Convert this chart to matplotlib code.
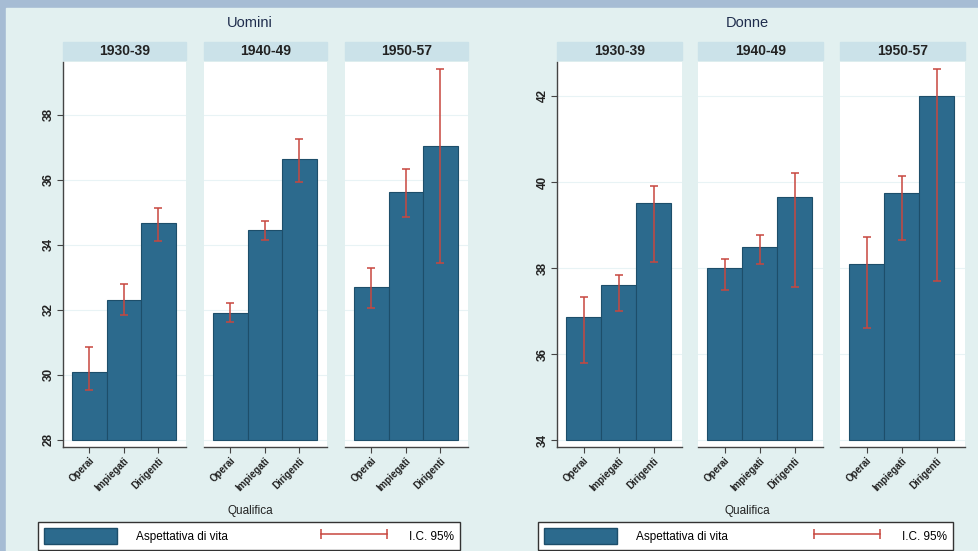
import matplotlib.pyplot as plt
from matplotlib.patches import Rectangle, Patch
from matplotlib.lines import Line2D

plt.rcParams['font.family'] = ['Liberation Sans', 'DejaVu Sans']

W, H = 979, 551

periodi = ['1930-39', '1940-49', '1950-57']
qualifiche = ['Operai', 'Impiegati', 'Dirigenti']

# aspettativa di vita e intervallo di confidenza al 95%
uomini_media = [[30.09, 32.31, 34.68], [31.90, 34.45, 36.65], [32.70, 35.62, 37.05]]
uomini_inf = [[29.54, 31.85, 34.12], [31.62, 34.15, 35.95], [32.05, 34.85, 33.45]]
uomini_sup = [[30.86, 32.80, 35.14], [32.22, 34.75, 37.25], [33.30, 36.35, 39.40]]

donne_media = [[36.86, 37.60, 39.51], [38.00, 38.50, 39.65], [38.10, 39.75, 42.00]]
donne_inf = [[35.79, 37.00, 38.14], [37.50, 38.10, 37.55], [36.60, 38.65, 37.70]]
donne_sup = [[37.33, 37.84, 39.90], [38.22, 38.76, 40.22], [38.72, 40.15, 42.62]]

uomini_ticks = [28, 30, 32, 34, 36, 38]
donne_ticks = [34, 36, 38, 40, 42]

bar_col = '#2c6a8d'
ci_col = '#c8473f'
bg_col = '#e2f0f0'
strip_col = '#cbe2e9'


def fx(px):
    return px / W


def fy(py):
    return 1 - py / H


fig = plt.figure(figsize=(W / 100, H / 100), dpi=100, facecolor='#a6bcd4')
fig.patches.append(Rectangle((fx(6), 0), 1, fy(8), transform=fig.transFigure,
                             color=bg_col, zorder=-10))

gruppi = [
    ('Uomini', uomini_media, uomini_inf, uomini_sup, uomini_ticks, (27.78, 39.63),
     [63, 204, 345], 123, 250, (38, 460)),
    ('Donne', donne_media, donne_inf, donne_sup, donne_ticks, (33.84, 42.79),
     [557, 698, 840], 125, 747, (538, 953)),
]

top, bottom = 62, 447

for titolo, media, inf, sup, ticks, ylim, xs, w, cx, (lx0, lx1) in gruppi:
    base = ticks[0]
    axes = []
    for i, per in enumerate(periodi):
        ax = fig.add_axes([fx(xs[i]), fy(bottom), w / W, (bottom - top) / H])
        ax.set_facecolor('white')
        x = list(range(len(qualifiche)))
        alt = [m - base for m in media[i]]
        ax.bar(x, alt, bottom=base, width=1, color=bar_col, edgecolor='#1d4e6a',
               linewidth=0.8, zorder=2)
        mid = [(a + b) / 2 for a, b in zip(inf[i], sup[i])]
        half = [(b - a) / 2 for a, b in zip(inf[i], sup[i])]
        ax.errorbar(x, mid, yerr=half, fmt='none', ecolor=ci_col, elinewidth=1.1,
                    capsize=3, capthick=1.1, zorder=3)
        ax.set_xlim(-0.76, 2.8)
        ax.set_ylim(*ylim)
        ax.set_yticks(ticks)
        ax.yaxis.grid(True, color='#e8f3f5', linewidth=0.8)
        ax.set_axisbelow(True)
        ax.set_xticks(x)
        ax.set_xticklabels(qualifiche, rotation=45, ha='right', rotation_mode='anchor',
                           fontsize=7, color='#222222', fontweight='bold')
        ax.tick_params(axis='x', length=4, width=0.8, color='#444444', pad=2)
        for s in ['top', 'right']:
            ax.spines[s].set_visible(False)
        ax.spines['bottom'].set_color('#444444')
        ax.spines['bottom'].set_linewidth(1.0)
        if i == 0:
            ax.spines['left'].set_color('#444444')
            ax.spines['left'].set_linewidth(1.0)
            ax.tick_params(axis='y', length=4, width=0.8, color='#444444', pad=2)
            for lab in ax.get_yticklabels():
                lab.set_rotation(90)
                lab.set_va('center')
                lab.set_fontsize(8.5)
                lab.set_fontweight('bold')
                lab.set_color('#222222')
        else:
            ax.spines['left'].set_visible(False)
            ax.tick_params(axis='y', left=False, labelleft=False)
        # striscia del periodo
        fig.patches.append(Rectangle((fx(xs[i]), fy(60)), w / W, 18 / H,
                                     transform=fig.transFigure, color=strip_col, zorder=-5))
        fig.text(fx(xs[i] + w / 2), fy(51), per, ha='center', va='center',
                 fontsize=10, fontweight='bold', color='#222222')
        axes.append(ax)

    fig.text(fx(cx), fy(23), titolo, ha='center', va='center', fontsize=10.5,
             color='#1f2d4d')
    fig.text(fx(cx), fy(511), 'Qualifica', ha='center', va='center', fontsize=8.5,
             color='#222222')

    handles = [Patch(facecolor=bar_col, edgecolor='#1d4e6a'),
               Line2D([], [], color=ci_col, lw=1.1, marker='|', markersize=7,
                      markeredgewidth=1.1)]
    leg = axes[0].legend(handles, ['Aspettativa di vita', 'I.C. 95%'],
                         loc='lower left', ncol=2, mode='expand', numpoints=2,
                         bbox_to_anchor=(fx(lx0), fy(550), (lx1 - lx0) / W, 28 / H),
                         bbox_transform=fig.transFigure, fontsize=8.5,
                         handlelength=6.2, handleheight=1.7, borderaxespad=0,
                         frameon=True, fancybox=False, edgecolor='#333333',
                         facecolor='white', framealpha=1, borderpad=0.5,
                         handletextpad=1.6)
    leg.get_frame().set_linewidth(1.0)

fig.savefig('out.png', dpi=100, facecolor=fig.get_facecolor())
